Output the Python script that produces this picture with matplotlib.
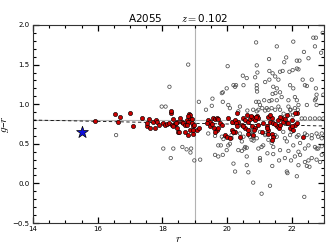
import matplotlib
matplotlib.use('Agg')
import matplotlib.pyplot as plt
from matplotlib.ticker import MultipleLocator

plt.rcParams['mathtext.fontset'] = 'cm'

# Data: red-sequence members (filled red)
r_mem = [15.92, 16.54, 16.69, 16.64, 17.00, 17.10, 17.36, 17.52, 17.62, 17.60,
         17.54, 17.72, 17.80, 17.82, 17.77, 17.91, 18.03, 18.08, 18.13, 18.22,
         18.29, 18.39, 18.44, 18.26, 18.34, 18.42, 18.44, 18.49, 18.53, 18.55,
         18.60, 18.65, 18.70, 18.75, 18.80, 18.84, 18.86, 18.86, 18.91, 18.96,
         18.70, 18.86, 18.94, 18.96, 18.99, 19.06, 19.13, 18.78, 18.75, 18.80,
         18.91, 18.26, 18.34,
         19.42, 19.47, 19.58, 19.63, 19.68, 19.73, 19.61, 19.68, 19.73, 19.63,
         19.47, 19.37, 19.53, 19.78, 19.84, 19.94, 19.99, 20.09,
         20.04, 20.14, 20.25, 20.30, 20.35, 20.46, 20.51, 20.56, 20.66, 20.71,
         20.76, 20.81, 20.87, 20.92, 20.97, 20.56, 20.66, 20.76, 20.87, 20.14,
         20.25, 20.20, 20.40, 20.28, 20.32, 20.62, 20.75, 20.90, 20.84, 20.66,
         20.81, 20.97, 20.49,
         21.12, 21.23, 21.33, 21.28, 21.38, 21.43, 21.54, 21.62, 21.69, 21.74,
         21.85, 21.95, 22.00, 22.05, 22.10, 22.16, 21.28, 21.38, 21.59, 21.79,
         21.49, 21.64, 21.90, 22.00, 21.07, 21.23, 21.28, 21.43, 21.38, 22.36,
         21.33, 21.64, 21.85, 22.16, 22.10]
gr_mem = [0.79, 0.88, 0.84, 0.78, 0.89, 0.72, 0.82, 0.72, 0.70, 0.81,
          0.76, 0.78, 0.80, 0.77, 0.70, 0.74, 0.76, 0.74, 0.75, 0.76,
          0.74, 0.75, 0.78, 0.89, 0.81, 0.76, 0.70, 0.65, 0.65, 0.82,
          0.78, 0.76, 0.74, 0.80, 0.78, 0.88, 0.82, 0.86, 0.76, 0.72,
          0.65, 0.67, 0.63, 0.67, 0.74, 0.67, 0.70, 0.61, 0.74, 0.85,
          0.81, 0.91, 0.72,
          0.80, 0.78, 0.82, 0.81, 0.83, 0.81, 0.70, 0.67, 0.70, 0.65,
          0.72, 0.76, 0.75, 0.76, 0.74, 0.61, 0.59, 0.57,
          0.82, 0.78, 0.80, 0.89, 0.78, 0.74, 0.82, 0.80, 0.78, 0.81,
          0.84, 0.82, 0.80, 0.85, 0.83, 0.70, 0.67, 0.72, 0.70, 0.67,
          0.65, 0.65, 0.59, 0.76, 0.72, 0.86, 0.85, 0.84, 0.67, 0.63,
          0.61, 0.74, 0.73,
          0.76, 0.72, 0.78, 0.67, 0.63, 0.76, 0.73, 0.70, 0.82, 0.78,
          0.76, 0.70, 0.80, 0.67, 0.74, 0.76, 0.84, 0.83, 0.80, 0.81,
          0.75, 0.74, 0.76, 0.72, 0.65, 0.70, 0.62, 0.59, 0.55, 0.58,
          0.86, 0.84, 0.86, 0.89, 0.89]

# Data: non-members (open circles)
r_non = [18.80, 18.22, 17.98, 18.10, 19.13, 19.55, 19.35, 20.02, 20.90, 22.05,
         22.67, 22.75, 22.96, 21.54, 22.72, 22.38, 22.91, 21.30, 21.83, 21.77,
         22.16, 22.24, 22.52, 20.92, 21.31, 21.41, 21.64, 21.72, 21.93, 22.03,
         22.16, 22.21, 21.49, 21.59, 21.31, 20.49, 20.61, 20.87, 20.94, 20.20,
         20.25, 19.84, 19.99, 20.51, 20.92, 20.92, 20.93, 21.18, 21.43, 21.54,
         21.41, 21.50, 21.64, 21.69, 21.95, 22.05, 22.10, 22.34, 22.62, 22.41,
         22.47, 22.75, 22.77, 22.75, 22.98, 19.87, 20.04, 20.09, 20.40, 20.63,
         20.81, 20.90, 20.98, 21.09, 21.18, 21.23, 21.31, 21.38, 21.49, 21.59,
         21.90, 21.97, 22.10, 22.19, 22.31, 22.41, 22.57, 22.72, 22.86, 22.98,
         21.15, 21.38, 21.54, 21.90, 22.16, 22.72, 21.02, 22.21, 22.47, 22.77,
         20.97, 21.28, 21.64, 21.95, 19.87, 20.28, 19.53, 20.92, 20.35, 21.75,
         21.95, 22.05,
         16.57, 18.03, 18.34, 18.26, 18.62, 18.75, 18.87, 18.99, 19.17, 19.63,
         19.73, 19.87, 19.81, 19.84, 20.14, 20.09, 20.20, 20.25, 20.61, 20.61,
         20.66, 20.81, 21.07, 21.33, 21.43, 21.85, 21.87, 22.16, 22.21, 22.47,
         22.55, 22.39, 22.77, 22.72, 22.82, 22.93, 22.26, 22.52, 21.98, 21.61,
         21.02, 21.40,
         21.02, 21.18, 21.49, 21.74, 22.00, 22.21, 22.41, 22.62, 22.82, 22.93,
         21.85, 22.05, 22.26, 22.52, 21.07, 21.43, 21.64, 21.90, 22.21, 22.41,
         22.77, 22.93, 21.02, 21.79, 22.10, 22.41, 22.62, 22.88,
         19.42, 19.63, 19.89, 20.25, 20.40, 20.51, 20.71, 20.71, 20.71, 20.76,
         20.92, 21.18, 21.28, 21.38, 21.54, 21.79, 21.95, 22.16, 22.47, 22.62,
         22.77, 22.93, 20.35, 20.46, 20.54, 20.61, 19.73, 20.04, 20.14, 20.97,
         20.78, 20.80, 20.82, 18.89, 20.46, 20.56, 19.99, 21.12, 21.25]
gr_non = [1.50, 1.22, 0.97, 0.97, 1.03, 1.07, 0.93, 1.48, 1.78, 1.79,
          1.84, 1.84, 1.90, 1.73, 1.73, 1.66, 1.65, 1.57, 1.59, 1.53,
          1.55, 1.55, 1.58, 1.49, 1.42, 1.39, 1.41, 1.42, 1.41, 1.43,
          1.45, 1.44, 1.35, 1.31, 1.31, 1.36, 1.33, 1.34, 1.40, 1.24,
          1.22, 1.14, 1.20, 1.24, 1.24, 1.20, 1.16, 1.28, 1.22, 1.20,
          1.13, 1.14, 1.15, 1.09, 1.24, 1.20, 1.09, 1.31, 1.31, 1.24,
          1.23, 1.20, 1.12, 1.07, 1.12, 1.03, 0.99, 0.95, 0.97, 0.92,
          0.93, 1.03, 1.03, 0.95, 0.92, 0.95, 1.04, 0.95, 0.93, 0.97,
          0.97, 0.93, 0.95, 0.93, 0.82, 0.82, 0.82, 0.82, 0.82, 0.82,
          1.05, 1.05, 1.05, 1.05, 1.05, 1.05, 0.99, 0.99, 0.99, 0.99,
          0.93, 0.93, 0.93, 0.93, 1.15, 1.24, 0.98, 0.91, 0.91, 0.88,
          0.87, 0.86,
          0.61, 0.44, 0.44, 0.32, 0.46, 0.43, 0.39, 0.29, 0.30, 0.36,
          0.34, 0.36, 0.48, 0.59, 0.61, 0.50, 0.25, 0.15, 0.34, 0.23,
          0.14, 0.01, -0.13, -0.03, 0.37, 0.15, 0.13, 0.09, 0.23, 0.22,
          0.21, -0.17, 0.30, 0.46, 0.44, 0.47, 0.36, 0.29, 0.29, 0.29,
          0.29, 0.22,
          0.65, 0.63, 0.61, 0.65, 0.65, 0.61, 0.63, 0.61, 0.59, 0.57,
          0.53, 0.48, 0.51, 0.48, 0.46, 0.46, 0.42, 0.41, 0.40, 0.44,
          0.44, 0.36, 0.32, 0.32, 0.34, 0.27, 0.32, 0.27,
          0.63, 0.60, 0.56, 0.65, 0.63, 0.59, 0.67, 0.63, 0.59, 0.55,
          0.57, 0.61, 0.55, 0.51, 0.59, 0.57, 0.61, 0.59, 0.61, 0.57,
          0.63, 0.63, 0.42, 0.41, 0.44, 0.45, 0.48, 0.48, 0.57, 0.44,
          0.62, 0.58, 0.54, 0.44, 0.53, 0.46, 0.42, 0.48, 0.38]

# BCG
r_bcg = [15.5]
gr_bcg = [0.65]

# red sequence fit and cuts
rs_x = [14.0, 23.0]
rs_y = [0.80, 0.725]
gr_cut = 0.805
r_lim = 19.0

fig, ax = plt.subplots(figsize=(3.32, 2.49), dpi=100)
fig.subplots_adjust(left=0.0994, right=0.9759, bottom=0.1044, top=0.8996)

ax.axvline(r_lim, color='0.7', lw=0.8, zorder=1)
ax.axhline(gr_cut, color='0.7', lw=0.8, zorder=1)
ax.plot(rs_x, rs_y, color='black', ls=(0, (4, 3)), lw=0.6, zorder=1)

ax.scatter(r_non, gr_non, s=6, facecolors='none', edgecolors='0.3', linewidths=0.55, zorder=2)
ax.scatter(r_mem, gr_mem, s=9, c='#cc0000', edgecolors='black', linewidths=0.45, zorder=3)
ax.scatter(r_bcg, gr_bcg, s=80, marker='*', c='#1010dd', edgecolors='black', linewidths=0.5, zorder=4)

ax.set_xlim(14, 23)
ax.set_ylim(-0.5, 2.0)
ax.xaxis.set_major_locator(MultipleLocator(2))
ax.xaxis.set_minor_locator(MultipleLocator(0.5))
ax.yaxis.set_major_locator(MultipleLocator(0.5))
ax.yaxis.set_minor_locator(MultipleLocator(0.1))
ax.tick_params(which='both', direction='in', top=True, right=True,
               color='black', labelsize=5, pad=2.5)
ax.tick_params(which='major', length=4, width=0.9)
ax.tick_params(which='minor', length=2.3, width=0.8)
for sp in ax.spines.values():
    sp.set_linewidth(0.8)
    sp.set_color('0.2')

ax.set_xlabel('$r$', fontsize=8, labelpad=1)
ax.set_ylabel('$g$–$r$', fontsize=8, labelpad=1)
ax.set_title('A2055      $z=$0.102', fontsize=7.5, pad=2)

fig.savefig('out.png', dpi=100)
